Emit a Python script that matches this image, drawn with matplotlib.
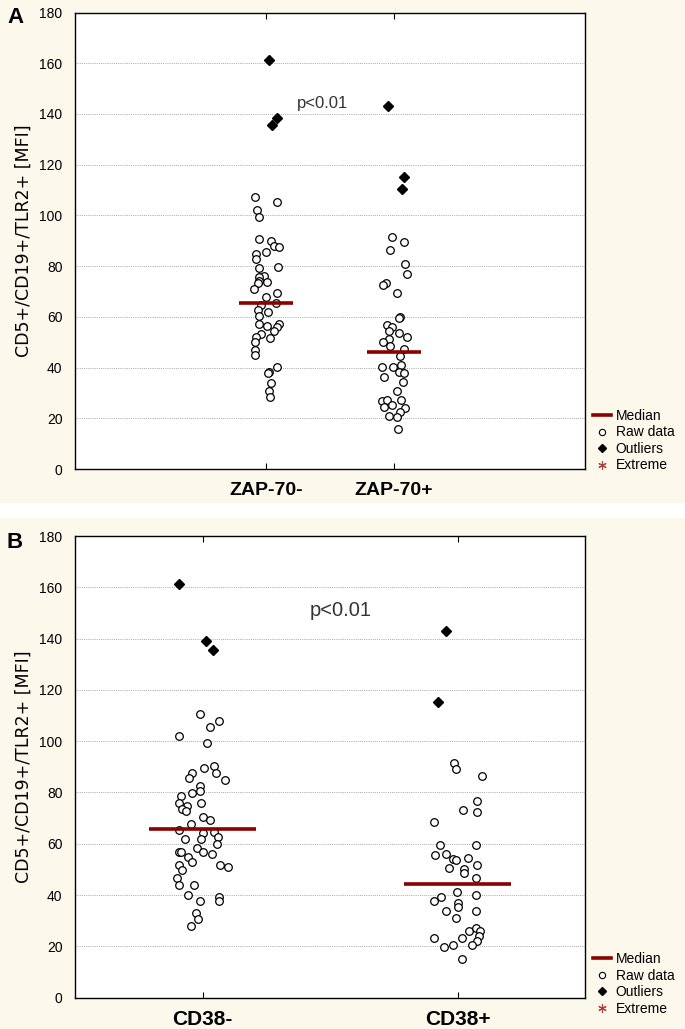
import numpy as np
import matplotlib
matplotlib.use("Agg")
import matplotlib.pyplot as plt
from matplotlib.lines import Line2D
from matplotlib.patches import Rectangle

plt.rcParams['font.family'] = ['Liberation Sans', 'DejaVu Sans']

# ---- Panel A data (ZAP-70) ----
groups_a = ["ZAP-70-", "ZAP-70+"]
zap_neg = [107.4, 105.2, 102.1, 99.5, 90.6, 89.9, 87.9, 87.7, 84.8, 85.6, 82.7, 79.7, 79.4,
           76.2, 75.8, 74.1, 73.2, 73.9, 71.0, 69.5, 67.7, 65.6, 64.5, 62.8, 61.8, 60.4, 57.2,
           57.2, 56.4, 55.9, 54.4, 53.1, 51.9, 51.5, 50.1, 46.8, 45.1, 40.1, 38.2, 37.9, 33.8,
           30.9, 28.3]
zap_neg_jit = [-0.086, 0.083, -0.074, -0.060, -0.055, 0.039, 0.057, 0.099, -0.078, -0.005,
               -0.082, 0.096, -0.058, -0.019, -0.053, -0.060, -0.063, 0.005, -0.100, 0.083,
               -0.005, 0.075, -0.042, -0.063, 0.016, -0.058, -0.055, 0.099, 0.005, 0.083,
               0.057, -0.042, -0.084, 0.026, -0.092, -0.089, -0.086, 0.083, 0.018, 0.015,
               0.039, 0.020, 0.026]
zap_pos = [91.5, 89.4, 86.5, 80.8, 76.8, 73.5, 72.6, 69.5, 59.9, 59.5, 56.7, 55.9, 54.5, 53.6,
           51.9, 51.1, 50.2, 48.6, 47.2, 44.7, 40.3, 40.1, 41.0, 38.4, 37.7, 36.4, 34.2, 30.9,
           26.9, 27.3, 27.2, 24.3, 25.1, 23.9, 22.4, 21.0, 20.4, 15.7]
zap_pos_jit = [-0.017, 0.080, -0.030, 0.090, 0.100, -0.059, -0.088, 0.022, 0.051, 0.041,
               -0.053, -0.012, -0.035, 0.038, 0.100, -0.041, -0.088, -0.027, 0.080, 0.049,
               -0.096, -0.009, 0.053, 0.038, 0.080, -0.077, 0.075, 0.027, -0.096, -0.053,
               0.053, -0.077, -0.014, 0.090, 0.049, -0.041, 0.022, 0.033]
zap_neg_out = [161.3, 138.4, 135.5]
zap_neg_out_jit = [0.020, 0.086, 0.047]
zap_pos_out = [143.1, 115.0, 110.4]
zap_pos_out_jit = [-0.049, 0.077, 0.064]
medians_a = [65.6, 46.1]

# ---- Panel B data (CD38) ----
groups_b = ["CD38-", "CD38+"]
cd38_neg = [110.6, 107.9, 105.5, 102.1, 99.3, 89.5, 90.2, 87.7, 87.6, 85.5, 84.7, 82.6, 80.7,
            79.7, 78.6, 75.8, 75.8, 74.7, 73.7, 72.7, 70.4, 69.3, 67.7, 65.4, 64.7, 64.1, 62.5,
            61.9, 61.9, 59.9, 58.3, 56.7, 56.7, 56.7, 55.9, 54.7, 52.8, 51.6, 50.9, 51.6, 49.6,
            46.5, 43.9, 43.9, 39.9, 39.2, 37.7, 37.7, 33.1, 30.8, 28.0]
cd38_neg_jit = [-0.011, 0.065, 0.029, -0.091, 0.019, 0.006, 0.046, -0.041, 0.054, -0.052,
                0.088, -0.011, -0.011, -0.041, -0.085, -0.093, -0.005, -0.062, -0.079, -0.064,
                0.001, 0.029, -0.045, -0.092, 0.046, 0.001, 0.060, -0.070, -0.005, 0.056,
                -0.023, 0.001, -0.093, -0.083, 0.036, -0.056, -0.041, 0.069, 0.099, -0.092,
                -0.082, -0.100, -0.091, -0.035, -0.056, 0.065, 0.065, -0.011, -0.025, -0.016,
                -0.045]
cd38_pos = [91.4, 89.3, 86.5, 76.7, 73.3, 72.3, 68.6, 59.6, 59.6, 55.6, 56.1, 53.9, 53.8, 54.4,
            51.6, 50.4, 50.0, 48.7, 46.8, 41.1, 39.9, 39.2, 37.8, 37.0, 35.3, 33.7, 33.7, 30.9,
            26.1, 27.0, 25.9, 23.9, 23.2, 23.2, 22.0, 20.4, 19.9, 20.4, 15.1]
cd38_pos_jit = [-0.015, -0.005, 0.097, 0.076, 0.022, 0.076, -0.094, -0.068, 0.071, -0.087,
                -0.047, -0.017, -0.004, 0.042, 0.076, -0.035, 0.026, 0.026, 0.071, -0.001,
                0.071, -0.063, -0.094, 0.0, 0.0, -0.047, 0.071, -0.005, 0.046, 0.072, 0.087,
                0.086, 0.016, -0.094, 0.076, -0.017, -0.052, 0.056, 0.016]
cd38_neg_out = [161.4, 139.0, 135.6]
cd38_neg_out_jit = [-0.091, 0.014, 0.040]
cd38_pos_out = [142.9, 115.4]
cd38_pos_out_jit = [-0.046, -0.075]
medians_b = [65.8, 44.3]

yticks = [0, 20, 40, 60, 80, 100, 120, 140, 160, 180]
ylabel = "CD5+/CD19+/TLR2+ [MFI]"
cream = "#fdf8ec"
med_color = "#8b0000"

W, H = 685, 1029
fig = plt.figure(figsize=(W / 100, H / 100), dpi=100)
fig.patch.set_facecolor("white")
fig.add_artist(Rectangle((0, 1 - 503 / H), 1, 503 / H, transform=fig.transFigure,
                         facecolor=cream, edgecolor="none", zorder=-10))
fig.add_artist(Rectangle((0, 0), 1, 1 - 518 / H, transform=fig.transFigure,
                         facecolor=cream, edgecolor="none", zorder=-10))


def panel(rect, groups, raw, jit, out, out_jit, medians, xlim, letter, letter_y,
          ptxt, fs_cat, leg_y):
    ax = fig.add_axes(rect)
    ax.set_facecolor("white")
    ax.set_xlim(*xlim)
    ax.set_ylim(0, 180)
    for i in range(len(groups)):
        x = i + np.array(jit[i])
        ax.scatter(x, raw[i], s=30, facecolors="white", edgecolors="black",
                   linewidths=0.9, zorder=3)
        xo = i + np.array(out_jit[i])
        ax.plot(xo, out[i], linestyle="none", marker="D", markersize=5.2,
                color="black", zorder=4)
        ax.hlines(medians[i], i - 0.21, i + 0.21, color=med_color, linewidth=2.6, zorder=5)
    for y in yticks[1:-1]:
        ax.axhline(y, color="#a8a8a8", linewidth=0.7, linestyle=(0, (1, 1.2)), zorder=1)
    ax.set_yticks(yticks)
    ax.set_yticklabels([str(v) for v in yticks], fontsize=10)
    ax.set_xticks(range(len(groups)))
    ax.set_xticklabels(groups, fontsize=fs_cat, fontweight="bold")
    ax.tick_params(axis="y", length=0, pad=9)
    ax.tick_params(axis="x", direction="in", length=4, top=True, pad=9)
    for s in ax.spines.values():
        s.set_linewidth(1.0)
    ax.set_ylabel(ylabel, fontsize=12.5, family=["DejaVu Sans"], labelpad=5)
    ax.text(ptxt[0], ptxt[1], "p<0.01", fontsize=ptxt[2], color="#333333",
            ha="center", va="center", zorder=6)
    fig.text(7 / W, 1 - letter_y / H, letter, fontsize=16, fontweight="bold",
             ha="left", va="baseline")
    handles = [
        Line2D([], [], color=med_color, linewidth=2.6),
        Line2D([], [], linestyle="none", marker="o", markersize=4.5,
               markerfacecolor="white", markeredgecolor="black", markeredgewidth=0.8),
        Line2D([], [], linestyle="none", marker="D", markersize=4, color="black"),
        Line2D([], [], linestyle="none", marker=(6, 2, 0), markersize=6,
               color="#b03a3a", markeredgewidth=0.8),
    ]
    ax.legend(handles, ["Median", "Raw data", "Outliers", "Extreme"], loc="center left",
              bbox_to_anchor=(1.0, leg_y), frameon=False, fontsize=10,
              handlelength=1.3, handletextpad=0.3, labelspacing=0.18, borderaxespad=0.2)
    return ax


panel([75 / W, 1 - 469 / H, 510 / W, 456.5 / H], groups_a,
      [zap_neg, zap_pos], [zap_neg_jit, zap_pos_jit],
      [zap_neg_out, zap_pos_out], [zap_neg_out_jit, zap_pos_out_jit],
      medians_a, (-1.5, 2.5), "A", 23, (0.44, 144, 12), 14, 0.062)
panel([75 / W, 1 - 997.6 / H, 510 / W, 461.5 / H], groups_b,
      [cd38_neg, cd38_pos], [cd38_neg_jit, cd38_pos_jit],
      [cd38_neg_out, cd38_pos_out], [cd38_neg_out_jit, cd38_pos_out_jit],
      medians_b, (-0.5, 1.5), "B", 548, (0.54, 151, 14.5), 15, 0.03)

fig.savefig("out.png", dpi=100, facecolor=fig.get_facecolor())
